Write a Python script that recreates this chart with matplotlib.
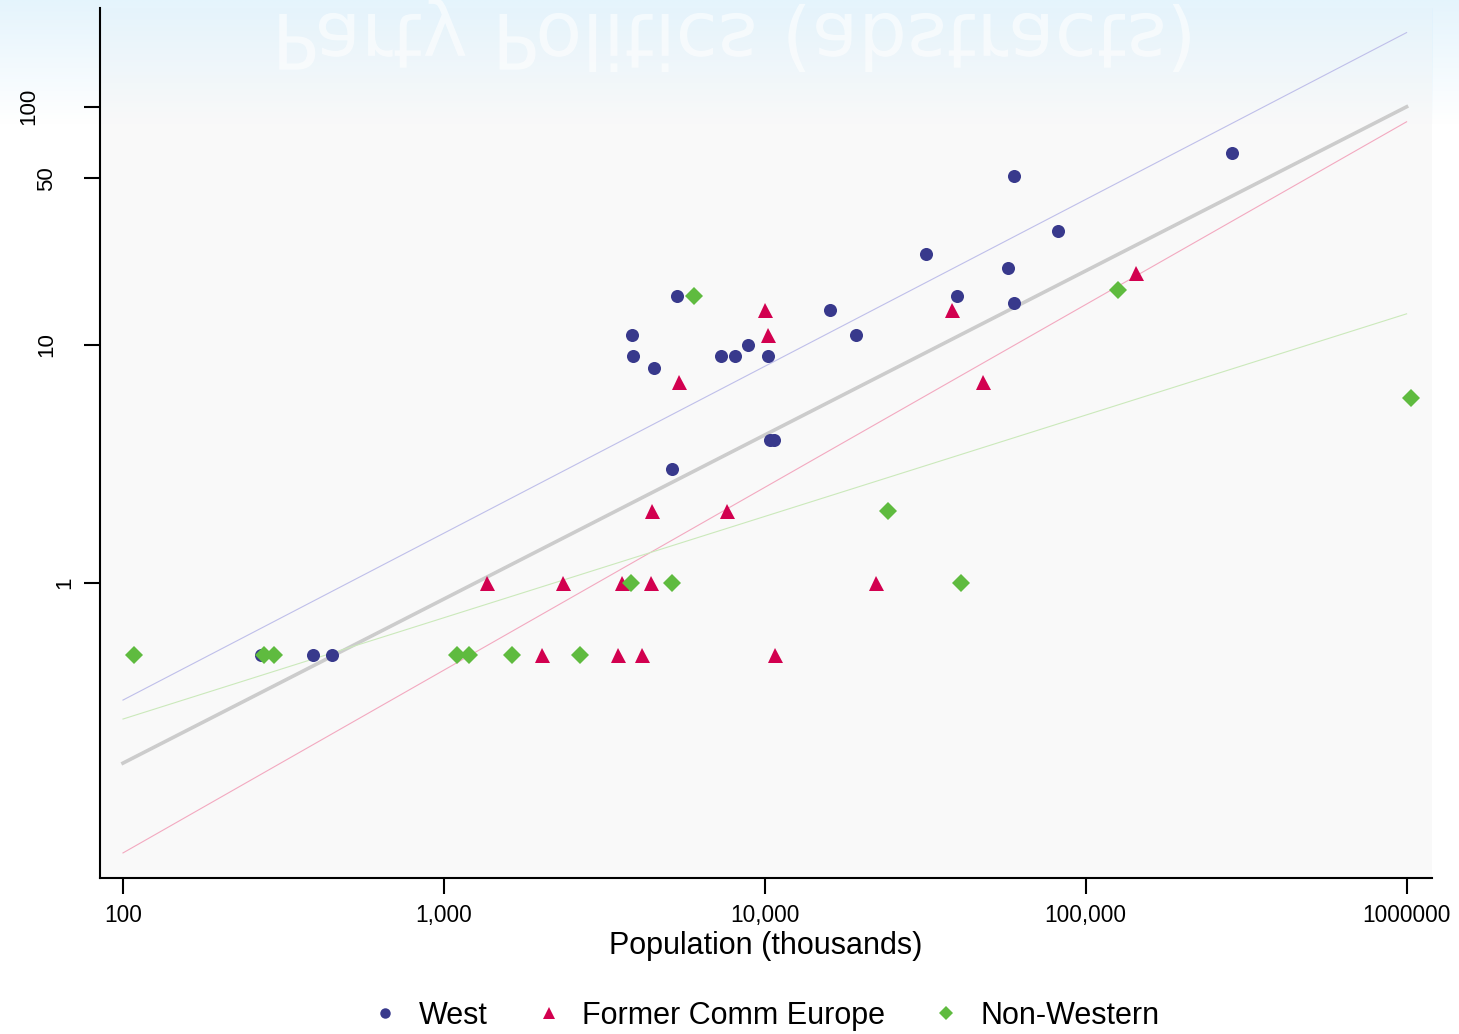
import numpy as np
import matplotlib
matplotlib.use("Agg")
import matplotlib.pyplot as plt
from matplotlib import patheffects
from matplotlib.image import BboxImage
from matplotlib.ticker import NullLocator
from matplotlib.transforms import Affine2D, Bbox, TransformedBbox

plt.rcParams["font.family"] = ["Liberation Sans", "DejaVu Sans"]

# ── Data ──────────────────────────────────────────────────────────────────────

west_pop = [270, 391, 449, 3860, 3890, 4520, 5340, 5150, 7310, 8090, 8890,
            10260, 10400, 10700, 16000, 19300, 31700, 39800, 57400, 59600,
            59600, 81700, 284700]
west_parties = [0.5, 0.5, 0.5, 11, 9, 8, 16, 3, 9, 9, 10,
                9, 4, 4, 14, 11, 24, 16, 21, 51,
                15, 30, 64]

comm_pop = [1364, 2355, 3597, 4430, 4460, 7640, 2024, 3492, 4150, 10790,
            5410, 10040, 10250, 22280, 38450, 47900, 143900]
comm_parties = [1, 1, 1, 1, 2, 2, 0.5, 0.5, 0.5, 0.5,
                7, 14, 11, 1, 14, 7, 20]

nonw_pop = [108, 275, 296, 1099, 1200, 1633, 2661, 3837, 5150, 6030,
            24260, 41000, 126500, 1029000]
nonw_parties = [0.5, 0.5, 0.5, 0.5, 0.5, 0.5, 0.5, 1, 1, 16,
                2, 1, 17, 6]

# fitted power-law lines, value at each end of fit_x
fit_x = [100, 1000000]
fit_all = [0.175, 100]
fit_west = [0.322, 205]
fit_comm = [0.0734, 86.5]
fit_nonw = [0.268, 13.5]

x_ticks = [100, 1000, 10000, 100000, 1000000]
x_ticklabels = ["100", "1,000", "10,000", "100,000", "1000000"]
y_ticks = [1, 10, 50, 100]
y_ticklabels = ["1", "10", "50", "100"]

BLUE, RED, GREEN = "#38398c", "#d2004f", "#5fbb3f"


class FlipY(patheffects.AbstractPathEffect):
    """Mirror the glyphs about their baseline."""
    def draw_path(self, renderer, gc, tpath, affine, rgbFace=None):
        renderer.draw_path(gc, tpath, Affine2D().scale(1, -1) + affine, rgbFace)


# ── Figure ────────────────────────────────────────────────────────────────────

W, H = 1459, 1034
fig = plt.figure(figsize=(W / 100, H / 100), dpi=100, facecolor="white")
ax = fig.add_axes([100 / W, 1 - 878 / H, 1332 / W, 870 / H])
ax.set_facecolor("#f9f9f9")

# light blue band fading down from the top edge
band_h = 125 / H
grad = np.zeros((128, 2, 4))
grad[..., :3] = (0.88, 0.95, 0.99)
grad[..., 3] = np.linspace(0.85, 0.0, 128)[:, None]
for parent, z in ((fig, -1), (ax, 0.5)):
    bb = TransformedBbox(Bbox([[0, 1 - band_h], [1, 1]]), fig.transFigure)
    im = BboxImage(bb, interpolation="bilinear", zorder=z)
    im.set_data(grad)
    parent.add_artist(im)

ax.plot(fit_x, fit_all, color="#cccccc", lw=2.6, zorder=1)
ax.plot(fit_x, fit_west, color="#bfbfea", lw=0.8, zorder=1)
ax.plot(fit_x, fit_comm, color="#f3a9c0", lw=0.8, zorder=1)
ax.plot(fit_x, fit_nonw, color="#cbe9bb", lw=0.8, zorder=1)

mk = dict(ls="none", mew=0, zorder=3)
h_w, = ax.plot(west_pop, west_parties, "o", ms=9.4, color=BLUE, label="West", **mk)
h_c, = ax.plot(comm_pop, comm_parties, "^", ms=10.8, color=RED, label="Former Comm Europe", **mk)
h_n, = ax.plot(nonw_pop, nonw_parties, "D", ms=9.4, color=GREEN, label="Non-Western", **mk)

ax.set_xscale("log")
ax.set_yscale("log")
ax.set_xlim(84.8, 1.2e6)
ax.set_ylim(0.0576, 260)
ax.set_xticks(x_ticks)
ax.set_xticklabels(x_ticklabels, fontsize=16.3)
ax.set_yticks(y_ticks)
ax.set_yticklabels([])
ax.xaxis.set_minor_locator(NullLocator())
ax.yaxis.set_minor_locator(NullLocator())
ax.tick_params(axis="both", length=11.5, width=1.5, color="black")
ax.tick_params(axis="x", pad=7)

# y labels sit further left the longer they are
for v, lab in zip(y_ticks, y_ticklabels):
    off = (24.5 + 18 * (len(lab) - 1)) * 0.72
    ax.annotate(lab, xy=(0, v), xycoords=("axes fraction", "data"),
                xytext=(-off, 0), textcoords="offset points",
                rotation=90, ha="right", va="center", fontsize=16)

for side in ("top", "right"):
    ax.spines[side].set_visible(False)
for side in ("left", "bottom"):
    ax.spines[side].set_linewidth(1.5)
    ax.spines[side].set_color("black")

ax.set_xlabel("Population (thousands)", fontsize=22, labelpad=3)

fig.legend(handles=[h_w, h_c, h_n], loc="center", bbox_to_anchor=(0.524, 18 / H),
           ncol=3, frameon=False, fontsize=22, handlelength=1.0,
           handletextpad=0.6, columnspacing=1.5, markerscale=0.8)

# ghosted, mirrored banner across the top
fig.text(0.5034, 1 - 14 / H, "Party Politics (abstracts)", ha="center", va="baseline",
         fontsize=55, family="DejaVu Sans", color="white", alpha=0.6,
         path_effects=[FlipY()], zorder=10)

fig.savefig("out.png", dpi=100, facecolor="white")
